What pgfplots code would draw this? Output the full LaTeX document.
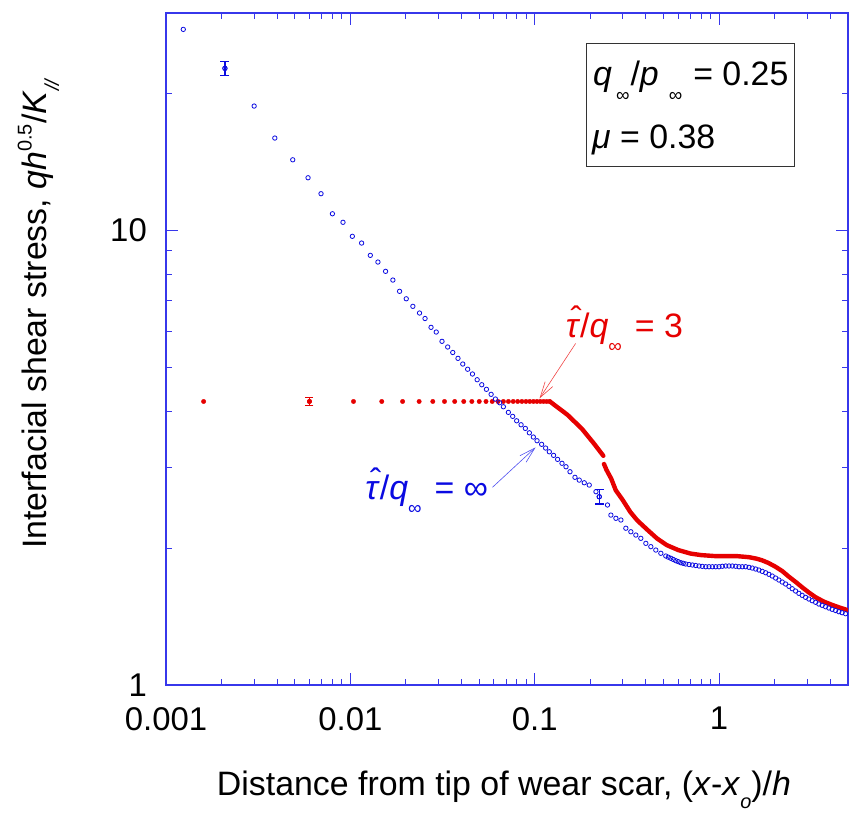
\documentclass[border=0pt]{standalone}
\usepackage{fontspec}
\setmainfont{Liberation Sans}
\usepackage{pgfplots}
\pgfplotsset{compat=1.18}
\usetikzlibrary{arrows.meta}
\definecolor{dblue}{RGB}{10,10,225}
\definecolor{axblue}{RGB}{55,55,235}
\definecolor{dred}{RGB}{230,0,0}
\definecolor{lred}{RGB}{240,70,70}
\definecolor{lblue}{RGB}{80,80,240}
\newcommand{\fs}{\fontsize{34}{40}\selectfont}
\newcommand{\sinf}{\raisebox{-0.45em}{\fontsize{19}{19}\selectfont ∞}}
\newcommand{\that}{\makebox[0pt][l]{\hspace{0.14em}\raisebox{0.2em}{ˆ}}\textit{τ}}
\begin{document}
\begin{tikzpicture}
\begin{axis}[
  xmode=log, ymode=log,
  scale only axis, width=682bp, height=672bp,
  xmin=0.001, xmax=5, ymin=1, ymax=30,
  axis line style={axblue, line width=1.1bp},
  tick style={axblue, line width=0.9bp},
  major tick length=12bp, minor tick length=6bp,
  tick align=inside,
  xtick={0.001,0.01,0.1,1}, xticklabels={0.001,0.01,0.1,1},
  minor xtick={0.002,0.003,0.004,0.005,0.006,0.007,0.008,0.009,0.02,0.03,0.04,0.05,0.06,0.07,0.08,0.09,0.2,0.3,0.4,0.5,0.6,0.7,0.8,0.9,2,3,4},
  ytick={1,10}, yticklabels={1,10},
  minor ytick={2,3,4,5,6,7,8,9,20},
  ticklabel style={font=\fontsize{33}{33}\selectfont, inner sep=0pt, text=black},
  xticklabel style={anchor=north, yshift=-22bp},
  yticklabel style={anchor=east, xshift=-19bp},
  xlabel={Distance from tip of wear scar, (\textit{x}-\textit{x}\raisebox{-0.4em}{\fontsize{20}{20}\selectfont\textit{o}})/\textit{h}},
  ylabel={Interfacial shear stress, \textit{qh}\raisebox{0.45em}{\fontsize{20}{20}\selectfont 0.5}/\textit{K}\raisebox{-0.35em}{\fontsize{20}{20}\selectfont\textit{//}}},
  xlabel style={at={(axis description cs:0.4956,-0.1637)}, anchor=base, inner sep=0pt, font=\fontsize{34}{34}\selectfont},
  ylabel style={at={(axis description cs:-0.1745,0.553)}, anchor=base, inner sep=0pt, font=\fontsize{34}{34}\selectfont},
  clip=true,
]
% red: tau/q = 3, discrete dots
\addplot[only marks, mark=*, mark size=2.2bp, dred, mark options={draw=dred, fill=dred}] coordinates {
(0.0016,4.2)(0.0060,4.2)(0.0104,4.2)(0.0148,4.2)(0.0192,4.2)(0.0236,4.2)(0.0280,4.2)
(0.0324,4.2)(0.0368,4.2)(0.0412,4.2)(0.0456,4.2)(0.0500,4.2)(0.0544,4.2)(0.0588,4.2)
(0.0632,4.2)(0.0676,4.2)(0.0720,4.2)(0.0764,4.2)(0.0808,4.2)(0.0852,4.2)(0.0896,4.2)
(0.0940,4.2)(0.0984,4.2)(0.1028,4.2)(0.1072,4.2)(0.1116,4.2)(0.1160,4.2)(0.1204,4.2)
};
% red error bar
\addplot[only marks, mark=*, mark size=2.2bp, color=dred, mark options={draw=dred, fill=dred},
  error bars/.cd, y dir=both, y explicit,
  error bar style={draw=dred, line width=1.3bp},
  error mark options={rotate=90, mark size=4bp, draw=dred, line width=1.3bp}] coordinates {(0.0060,4.2) +- (0,0.09)};
% red: dense parts drawn as thick trace
\addplot[dred, line width=4.4bp, line cap=round, line join=round, mark=none] coordinates {
(0.1204,4.2)(0.1207,4.2)(0.150,3.93)(0.180,3.66)(0.210,3.39)(0.2355,3.19)
};
\addplot[dred, line width=4.4bp, line cap=round, line join=round, mark=none] coordinates {
(0.2375,3.06)(0.245,2.97)(0.260,2.84)(0.275,2.68)(0.300,2.55)(0.330,2.40)(0.360,2.30)
(0.410,2.19)(0.460,2.10)(0.520,2.03)(0.600,1.98)(0.700,1.945)(0.800,1.93)(0.960,1.92)
(1.10,1.92)(1.25,1.92)(1.45,1.91)(1.60,1.895)(1.71,1.88)(1.85,1.855)(2.02,1.82)
(2.20,1.78)(2.39,1.73)(2.60,1.685)(2.82,1.64)(3.05,1.60)(3.33,1.56)(3.70,1.525)
(4.10,1.50)(4.50,1.48)(5.00,1.46)
};
% blue: tau/q = infinity
\addplot[only marks, mark=o, mark size=2.2bp, dblue, mark options={line width=0.8bp}] coordinates {
(0.001241,27.61)(0.002087,22.67)(0.003007,18.73)(0.003893,15.93)(0.004869,14.27)
(0.005895,13.03)(0.006932,12.02)(0.007993,10.86)(0.009119,10.40)(0.010251,9.687)
(0.011509,9.363)(0.012831,8.798)(0.014107,8.505)(0.015523,8.114)(0.017006,7.765)
(0.018486,7.334)(0.020095,7.063)(0.021826,6.797)(0.023721,6.571)(0.025410,6.391)
(0.027384,6.112)(0.029215,5.968)(0.031405,5.694)(0.033720,5.533)(0.035929,5.381)
(0.038350,5.224)(0.040710,5.076)(0.043267,4.944)(0.045941,4.826)(0.048720,4.688)
(0.051604,4.571)(0.054702,4.466)(0.057995,4.354)(0.061184,4.252)(0.064565,4.173)
(0.067608,4.089)(0.071945,3.975)(0.075922,3.895)(0.079799,3.809)(0.084297,3.733)
(0.088928,3.665)(0.093500,3.584)(0.098266,3.508)(0.10290,3.443)(0.10899,3.381)
(0.11455,3.318)(0.11997,3.256)(0.12656,3.197)(0.13305,3.133)(0.14055,3.071)
(0.14774,3.018)(0.15530,2.943)(0.16526,2.861)(0.17436,2.821)(0.18558,2.783)
(0.19754,2.751)(0.21475,2.660)(0.22378,2.593)(0.24804,2.487)(0.2588,2.363)
(0.2755,2.325)(0.2933,2.305)(0.3120,2.211)(0.3321,2.172)(0.3535,2.136)
(0.3762,2.101)(0.4005,2.048)(0.4262,2.014)(0.4536,1.980)(0.4829,1.948)
(0.5139,1.9214)(0.5302,1.9099)(0.5470,1.8993)(0.5643,1.8876)(0.5821,1.8763)
(0.6006,1.8668)(0.6195,1.8574)(0.6391,1.8510)(0.6594,1.8450)(0.6871,1.8403)
(0.7160,1.8357)(0.7469,1.8310)(0.7785,1.8264)(0.8110,1.8230)(0.8461,1.8197)
(0.8816,1.8197)(0.9188,1.8197)(0.9585,1.8197)(0.9988,1.8197)(1.0407,1.8237)
(1.0857,1.8264)(1.1315,1.8264)(1.1790,1.8264)(1.2300,1.8237)(1.2815,1.8197)
(1.3354,1.8197)(1.3932,1.8197)(1.4518,1.8142)(1.5129,1.8075)(1.5784,1.7985)
(1.6444,1.7893)(1.7136,1.7777)(1.7877,1.7651)(1.8629,1.7509)(1.9409,1.7360)
(2.0249,1.7185)(2.1101,1.7012)(2.1989,1.6840)(2.2940,1.6672)(2.3904,1.6478)
(2.4906,1.6278)(2.5984,1.6091)(2.7077,1.5904)(2.8215,1.5743)(2.9437,1.5585)
(3.0668,1.5453)(3.1957,1.5322)(3.3343,1.5199)(3.4747,1.5066)(3.6209,1.4969)
(3.7774,1.4863)(3.9355,1.4764)(4.1012,1.4669)(4.2790,1.4578)(4.4589,1.4491)
(4.6452,1.4418)(4.8466,1.4345)
};
% blue error bars
\addplot[only marks, mark=o, mark size=2.2bp, color=dblue, mark options={draw=dblue, line width=0.8bp},
  error bars/.cd, y dir=both, y explicit,
  error bar style={draw=dblue, line width=1.3bp},
  error mark options={rotate=90, mark size=4.5bp, draw=dblue, line width=1.3bp}] coordinates {
(0.002087,22.67) +- (0,0.78)
(0.22378,2.593) +- (0,0.093)
};
% annotations
\draw[lred, line width=0.6bp, -{Straight Barb[length=16bp,width=9bp,line width=0.6bp]}]
  (rel axis cs:0.6006,0.5082) -- (rel axis cs:0.5477,0.4264);
\node[anchor=base west, inner sep=0pt, text=dred, font=\fs] at (rel axis cs:0.5859,0.5171)
  {\that/\textit{q}\sinf\hspace{13bp}= 3};
\draw[lblue, line width=0.6bp, -{Straight Barb[length=16bp,width=9bp,line width=0.6bp]}]
  (rel axis cs:0.4787,0.2942) -- (rel axis cs:0.5419,0.3536);
\node[anchor=base west, inner sep=0pt, text=dblue, font=\fs] at (rel axis cs:0.2922,0.2764)
  {\that/\textit{q}\sinf\hspace{13bp}= ∞};
% parameter box
\draw[black!80, line width=0.9bp] (rel axis cs:0.6158,0.9554) rectangle (rel axis cs:0.9208,0.7710);
\node[anchor=base west, inner sep=0pt, font=\fs] at (rel axis cs:0.6261,0.8914)
  {\textit{q}\hspace{4bp}\sinf\hspace{1bp}/\textit{p}\hspace{10bp}\sinf\hspace{11bp}= 0.25};
\node[anchor=base west, inner sep=0pt, font=\fs] at (rel axis cs:0.6246,0.7976)
  {\textit{μ} = 0.38};
\end{axis}
\pgfresetboundingbox
\path[use as bounding box] ([shift={(-166bp,-134bp)}]current axis.south west) rectangle ([shift={(683bp,685bp)}]current axis.south west);
\end{tikzpicture}
\end{document}
